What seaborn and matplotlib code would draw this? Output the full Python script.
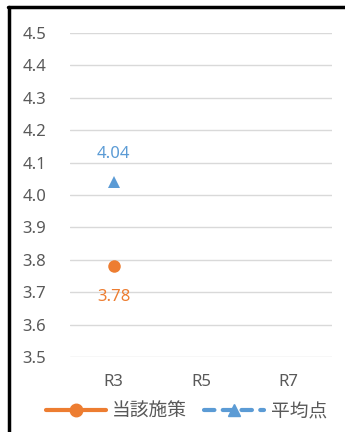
import matplotlib
matplotlib.use("Agg")
import matplotlib.pyplot as plt
from matplotlib.lines import Line2D
import seaborn as sns
import numpy as np
import pandas as pd

categories = ["R3", "R5", "R7"]
series_names = ["当該施策", "平均点"]
values_policy = [3.78, np.nan, np.nan]
values_avg = [4.04, np.nan, np.nan]
y_ticks = [3.5, 3.6, 3.7, 3.8, 3.9, 4.0, 4.1, 4.2, 4.3, 4.4, 4.5]

sns.set_theme(style="white")
plt.rcParams["font.family"] = ["Noto Sans", "Noto Sans CJK JP", "DejaVu Sans"]

ORANGE = "#ED7D31"
BLUE = "#5B9BD5"
GRID = "#D9D9D9"
TXT = "#595959"

fig = plt.figure(figsize=(3.45, 4.32), dpi=100)
ax = fig.add_axes([70/345, 1-357/432, (332-70)/345, (357-33)/432])

x_pos = list(range(len(categories)))
df = pd.DataFrame({
    "x": x_pos * 2,
    "y": values_policy + values_avg,
    "series": [series_names[0]] * 3 + [series_names[1]] * 3,
})

sns.lineplot(data=df[df.series == series_names[0]], x="x", y="y", ax=ax,
             color=ORANGE, marker="o", markersize=9, linewidth=2.5,
             markeredgewidth=0, label=series_names[0])
sns.lineplot(data=df[df.series == series_names[1]], x="x", y="y", ax=ax,
             color=BLUE, marker="^", markersize=9, linewidth=2.5,
             linestyle="--", markeredgewidth=0, label=series_names[1])

# data labels
for xi, v in zip(x_pos, values_policy):
    if not np.isnan(v):
        ax.annotate(f"{v:.2f}", (xi, v), xytext=(0, -22), textcoords="offset points",
                    ha="center", va="center", color=ORANGE, fontsize=12)
for xi, v in zip(x_pos, values_avg):
    if not np.isnan(v):
        ax.annotate(f"{v:.2f}", (xi, v), xytext=(0, 20), textcoords="offset points",
                    ha="center", va="center", color=BLUE, fontsize=12)

ax.set_xlim(-0.5, len(categories) - 0.5)
ax.set_ylim(3.5, 4.5)
ax.set_yticks(y_ticks)
ax.set_yticklabels([f"{t:.1f}" for t in y_ticks])
ax.set_xticks(x_pos)
ax.set_xticklabels(categories)
ax.set_xlabel("")
ax.set_ylabel("")
ax.tick_params(axis="both", length=0, labelsize=12, colors=TXT)
ax.tick_params(axis="x", pad=12)
ax.tick_params(axis="y", pad=34)
for lab in ax.get_yticklabels():
    lab.set_horizontalalignment("left")
ax.yaxis.grid(True, color=GRID, linewidth=1)
ax.xaxis.grid(False)
for s in ax.spines.values():
    s.set_visible(False)

ax.get_legend().remove()
handles = [
    Line2D([0], [0], color=ORANGE, linewidth=3, marker="o", markersize=9,
           solid_capstyle="round"),
    Line2D([0], [0], color=BLUE, linewidth=3, linestyle=(0, (2.5, 2.0)), marker="^",
           markersize=9, dash_capstyle="round"),
]
leg = fig.legend(handles, series_names, loc="center", bbox_to_anchor=(0.54, 1-412/432),
                 ncol=2, frameon=False, fontsize=13.5, handlelength=3.2,
                 columnspacing=0.9, handletextpad=0.35, borderpad=0, borderaxespad=0)
for t in leg.get_texts():
    t.set_color(TXT)

# outer border (left and top)
fig.add_artist(Line2D([9/345, 9/345], [0, 1-7/432], transform=fig.transFigure,
                      color="black", linewidth=2.5))
fig.add_artist(Line2D([8/345, 1], [1-7/432, 1-7/432], transform=fig.transFigure,
                      color="black", linewidth=2.5))

fig.savefig("out.png", dpi=100)
